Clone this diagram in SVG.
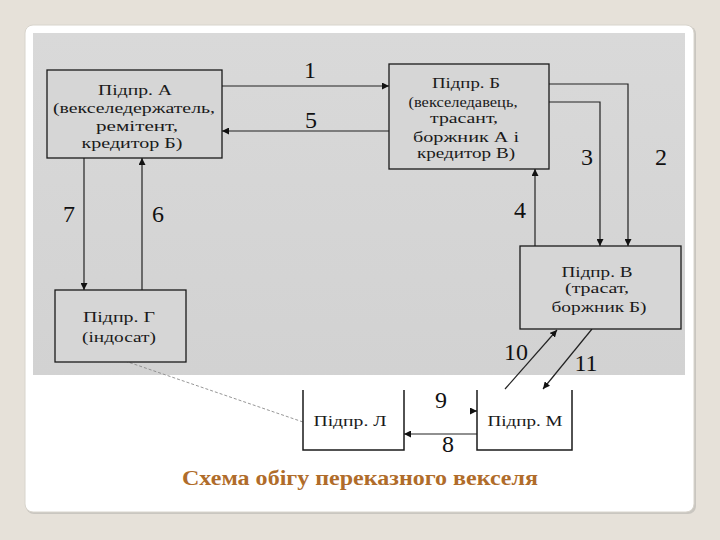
<svg xmlns="http://www.w3.org/2000/svg" width="720" height="540" viewBox="0 0 720 540">
<defs>
<marker id="ah" viewBox="0 0 10 10" refX="10" refY="5" markerWidth="7" markerHeight="7" orient="auto" markerUnits="userSpaceOnUse">
<path d="M0,0 L10,5 L0,10 z" fill="#111"/>
</marker>
<linearGradient id="pg" x1="0" y1="0" x2="0" y2="1">
<stop offset="0" stop-color="#d9d9d9"/>
<stop offset="1" stop-color="#d2d2d2"/>
</linearGradient>
<style>
.box{fill:#d6d6d6;stroke:#1a1a1a;stroke-width:1.3}
.t{font-family:"Liberation Serif","Times New Roman",serif;font-size:15px;fill:#1a1a1a;text-anchor:middle}
.n{font-family:"Liberation Serif","Times New Roman",serif;font-size:24px;fill:#111;text-anchor:middle}
.c{fill:none;stroke:#222;stroke-width:1.2}
.open{fill:none;stroke:#1a1a1a;stroke-width:1.5}
.cap{font-family:"Liberation Serif","Times New Roman",serif;font-size:21px;font-weight:bold;fill:#b06c2a;text-anchor:middle}
</style>
</defs>
<rect x="0" y="0" width="720" height="540" fill="#e6e1d9"/>
<rect x="26" y="26" width="670" height="488" rx="8" fill="#c9c6c0"/>
<rect x="25" y="25" width="669" height="487" rx="8" fill="#ffffff" stroke="#d8d4cc" stroke-width="1"/>
<rect x="33" y="33" width="652" height="342" fill="url(#pg)"/>

<g id="connectors">
<line class="c" x1="222" y1="86" x2="389" y2="86" marker-end="url(#ah)"/>
<line class="c" x1="389" y1="131" x2="222" y2="131" marker-end="url(#ah)"/>
<polyline class="c" points="549,84 628,84 628,246" marker-end="url(#ah)"/>
<polyline class="c" points="549,102 600,102 600,246" marker-end="url(#ah)"/>
<line class="c" x1="535" y1="246" x2="535" y2="169" marker-end="url(#ah)"/>
<line class="c" x1="84" y1="158" x2="84" y2="290" marker-end="url(#ah)"/>
<line class="c" x1="142" y1="290" x2="142" y2="158" marker-end="url(#ah)"/>
<line class="c" x1="505" y1="389" x2="557" y2="330" marker-end="url(#ah)"/>
<line class="c" x1="592" y1="329" x2="543" y2="389" marker-end="url(#ah)"/>
<line class="c" x1="470" y1="411" x2="477" y2="411" marker-end="url(#ah)"/>
<line class="c" x1="477" y1="434" x2="404" y2="434" marker-end="url(#ah)"/>
<line x1="125" y1="361" x2="303" y2="422" stroke="#8a8a8a" stroke-width="0.9" stroke-dasharray="3,2"/>
<text class="n" x="310" y="78">1</text>
<text class="n" x="311" y="128">5</text>
<text class="n" x="661" y="165">2</text>
<text class="n" x="587" y="165">3</text>
<text class="n" x="520" y="218">4</text>
<text class="n" x="69" y="222">7</text>
<text class="n" x="158" y="222">6</text>
<text class="n" x="516" y="360">10</text>
<text class="n" x="586" y="371">11</text>
<text class="n" x="441" y="408">9</text>
<text class="n" x="448" y="452">8</text>
</g>

<g id="node-a">
<rect class="box" x="47" y="70" width="175" height="88"/>
<text class="t" x="135" y="95" textLength="74" lengthAdjust="spacingAndGlyphs">Підпр. А</text>
<text class="t" x="134" y="113" textLength="162" lengthAdjust="spacingAndGlyphs">(векселедержатель,</text>
<text class="t" x="137" y="131" textLength="82" lengthAdjust="spacingAndGlyphs">ремітент,</text>
<text class="t" x="132" y="148" textLength="101" lengthAdjust="spacingAndGlyphs">кредитор Б)</text>
</g>

<g id="node-b">
<rect class="box" x="389" y="64" width="160" height="105"/>
<text class="t" x="466" y="88" textLength="68" lengthAdjust="spacingAndGlyphs">Підпр. Б</text>
<text class="t" x="463" y="107" textLength="109" lengthAdjust="spacingAndGlyphs">(векселедавець,</text>
<text class="t" x="464" y="123" textLength="68" lengthAdjust="spacingAndGlyphs">трасант,</text>
<text class="t" x="466" y="142" textLength="106" lengthAdjust="spacingAndGlyphs">боржник А і</text>
<text class="t" x="466" y="158" textLength="98" lengthAdjust="spacingAndGlyphs">кредитор В)</text>
</g>

<g id="node-v">
<rect class="box" x="520" y="246" width="161" height="83"/>
<text class="t" x="597" y="277" textLength="71" lengthAdjust="spacingAndGlyphs">Підпр. В</text>
<text class="t" x="597" y="293" textLength="64" lengthAdjust="spacingAndGlyphs">(трасат,</text>
<text class="t" x="599" y="312" textLength="95" lengthAdjust="spacingAndGlyphs">боржник Б)</text>
</g>

<g id="node-g">
<rect class="box" x="55" y="290" width="131" height="72"/>
<text class="t" x="119" y="322" textLength="72" lengthAdjust="spacingAndGlyphs">Підпр. Г</text>
<text class="t" x="119" y="342" textLength="74" lengthAdjust="spacingAndGlyphs">(індосат)</text>
</g>

<g id="node-l">
<polyline class="open" points="303,390 303,450 404,450 404,390"/>
<text class="t" x="350" y="426" textLength="73" lengthAdjust="spacingAndGlyphs">Підпр. Л</text>
</g>

<g id="node-m">
<polyline class="open" points="477,390 477,450 572,450 572,390"/>
<text class="t" x="525" y="426" textLength="75" lengthAdjust="spacingAndGlyphs">Підпр. М</text>
</g>

<text class="cap" x="360" y="485" textLength="356" lengthAdjust="spacingAndGlyphs">Схема обігу переказного векселя</text>
</svg>
